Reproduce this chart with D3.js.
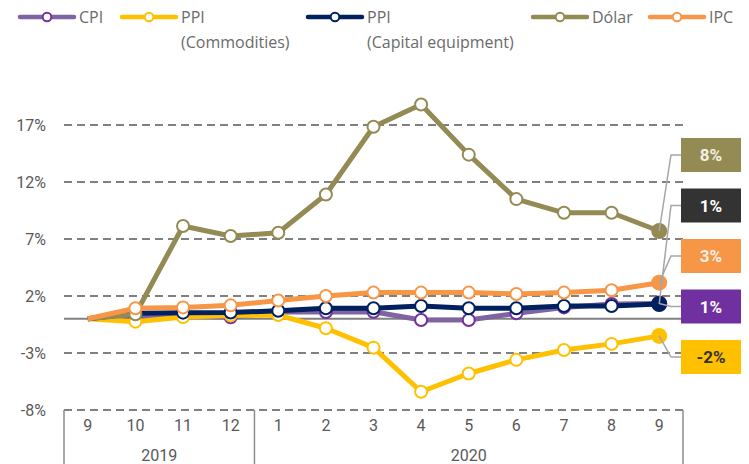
<!DOCTYPE html>
<html><head><meta charset="utf-8">
<script src="https://cdn.jsdelivr.net/npm/d3@7"></script>
<style>body{margin:0;background:#fff}svg{display:block}</style>
</head><body><svg id="c" width="749" height="464"></svg>
<script>
const months = ["9","10","11","12","1","2","3","4","5","6","7","8","9"];
const years = ["2019","2020"];
const yearStart = [0, 4];
const yearEnd = [3, 12];
const yTicks = [-8, -3, 2, 7, 12, 17];

const cpi      = [0, 0.2, 0.25, 0.13, 0.6, 0.6, 0.62, -0.1, -0.1, 0.48, 1.0, 1.3, 1.35];
const ppiComm  = [0, -0.25, 0.15, 0.3, 0.33, -0.83, -2.53, -6.4, -4.8, -3.6, -2.74, -2.2, -1.5];
const ppiCap   = [0, 0.48, 0.54, 0.55, 0.71, 0.92, 0.92, 1.12, 0.92, 0.92, 1.12, 1.12, 1.3];
const dolar    = [0, 0.4, 8.14, 7.26, 7.55, 10.9, 16.85, 18.8, 14.4, 10.5, 9.3, 9.3, 7.7];
const ipc      = [0, 0.92, 1.0, 1.18, 1.6, 2.0, 2.3, 2.3, 2.3, 2.18, 2.3, 2.5, 3.17];

const seriesNames = ["CPI", "PPI\n(Commodities)", "PPI\n(Capital equipment)", "Dólar", "IPC"];
const endLabels = ["1%", "-2%", "1%", "8%", "3%"];
const labelOrder = [3, 2, 4, 0, 1];

const lineColors = ["#8064A2", "#FFC000", "#002060", "#948A54", "#F79646"];
const markColors = ["#7030A0", "#FFC000", "#002060", "#948A54", "#F79646"];
const boxColors  = ["#7030A0", "#FFC000", "#333333", "#948A54", "#F79646"];
const boxText    = ["#ffffff", "#333333", "#ffffff", "#f4f0e0", "#fbeee4"];

const seriesVals = [cpi, ppiComm, ppiCap, dolar, ipc];

const svg = d3.select("#c");
const pL = 64, pR = 683, pT = 125, pB = 410;
const x = d3.scaleBand().domain(d3.range(months.length)).range([pL, pR]);
const cx = i => x(i) + x.bandwidth() / 2;
const y = d3.scaleLinear().domain([-8, 17]).range([pB, pT]);
const grey = "#595959";

// gridlines
svg.append("g").selectAll("line").data(yTicks).join("line")
  .attr("x1", pL).attr("x2", pR)
  .attr("y1", d => y(d)).attr("y2", d => y(d))
  .attr("stroke", "#808080").attr("stroke-width", 2).attr("stroke-dasharray", "8,5");
svg.append("line").attr("x1", pL).attr("x2", pR).attr("y1", y(0)).attr("y2", y(0))
  .attr("stroke", "#808080").attr("stroke-width", 2);

// y labels
svg.append("g").selectAll("text").data(yTicks).join("text")
  .attr("x", 46).attr("y", d => y(d)).attr("dy", "0.35em").attr("text-anchor", "end")
  .attr("font-family", "Roboto").attr("font-size", 16).attr("fill", grey)
  .text(d => d + "%");

// category axis
const axG = svg.append("g");
[pL, x(yearEnd[0]) + x.bandwidth(), pR].forEach(v => {
  axG.append("line").attr("x1", v).attr("x2", v).attr("y1", pB).attr("y2", 464)
    .attr("stroke", "#8c8c8c").attr("stroke-width", 1.5);
});
axG.selectAll("text.m").data(months).join("text").attr("class", "m")
  .attr("x", (d, i) => cx(i)).attr("y", 431).attr("text-anchor", "middle")
  .attr("font-family", "Roboto").attr("font-size", 16).attr("fill", grey).text(d => d);
axG.selectAll("text.yr").data(years).join("text").attr("class", "yr")
  .attr("x", (d, i) => (x(yearStart[i]) + x(yearEnd[i]) + x.bandwidth()) / 2).attr("y", 461)
  .attr("text-anchor", "middle")
  .attr("font-family", "Roboto").attr("font-size", 16).attr("fill", grey).text(d => d);

// series
const line = d3.line().x((d, i) => cx(i)).y(d => y(d));
seriesVals.forEach((vals, s) => {
  const g = svg.append("g");
  g.append("path").datum(vals).attr("d", line).attr("fill", "none")
    .attr("stroke", lineColors[s]).attr("stroke-width", 5).attr("stroke-linejoin", "round");
  g.selectAll("circle").data(vals).join("circle")
    .attr("cx", (d, i) => cx(i)).attr("cy", d => y(d))
    .attr("r", (d, i) => i === vals.length - 1 ? 7 : (i === 0 ? 0 : 6))
    .attr("fill", (d, i) => i === vals.length - 1 ? markColors[s] : "#fff")
    .attr("stroke", markColors[s]).attr("stroke-width", 2);
});

// end labels
const boxX = 681, boxW = 60, boxH = 34, boxTop = 155, boxStep = 50.5;
labelOrder.forEach((s, k) => {
  const vals = seriesVals[s];
  const last = vals.length - 1;
  const by = boxTop + k * boxStep;
  svg.append("polyline")
    .attr("points", `${cx(last)},${y(vals[last])} ${boxX - 10},${by} ${boxX},${by}`)
    .attr("fill", "none").attr("stroke", "#a6a6a6").attr("stroke-width", 1.5);
  svg.append("rect").attr("x", boxX).attr("y", by - boxH / 2).attr("width", boxW).attr("height", boxH)
    .attr("fill", boxColors[s]);
  svg.append("text").attr("x", boxX + boxW / 2).attr("y", by).attr("dy", "0.36em")
    .attr("text-anchor", "middle").attr("font-family", "Roboto").attr("font-weight", "bold")
    .attr("font-size", 17).attr("fill", boxText[s]).text(endLabels[s]);
});

// legend
const legX = [20, 122, 308, 533, 650];
seriesNames.forEach((name, s) => {
  const g = svg.append("g").attr("transform", `translate(${legX[s]},17)`);
  g.append("line").attr("x1", 0).attr("x2", 54).attr("y1", 0).attr("y2", 0)
    .attr("stroke", lineColors[s]).attr("stroke-width", 4.5).attr("stroke-linecap", "round");
  g.append("circle").attr("cx", 27).attr("cy", 0).attr("r", 4.3).attr("fill", "#fff")
    .attr("stroke", markColors[s]).attr("stroke-width", 2);
  const t = g.append("text").attr("x", 59).attr("y", 0)
    .attr("font-family", "'Open Sans', sans-serif")
    .attr("font-size", 16).attr("fill", "#6b6b6b");
  name.split("\n").forEach((ln, j) => {
    t.append("tspan").attr("x", 59).attr("dy", j === 0 ? "0.36em" : "25").text(ln);
  });
});
</script></body></html>
